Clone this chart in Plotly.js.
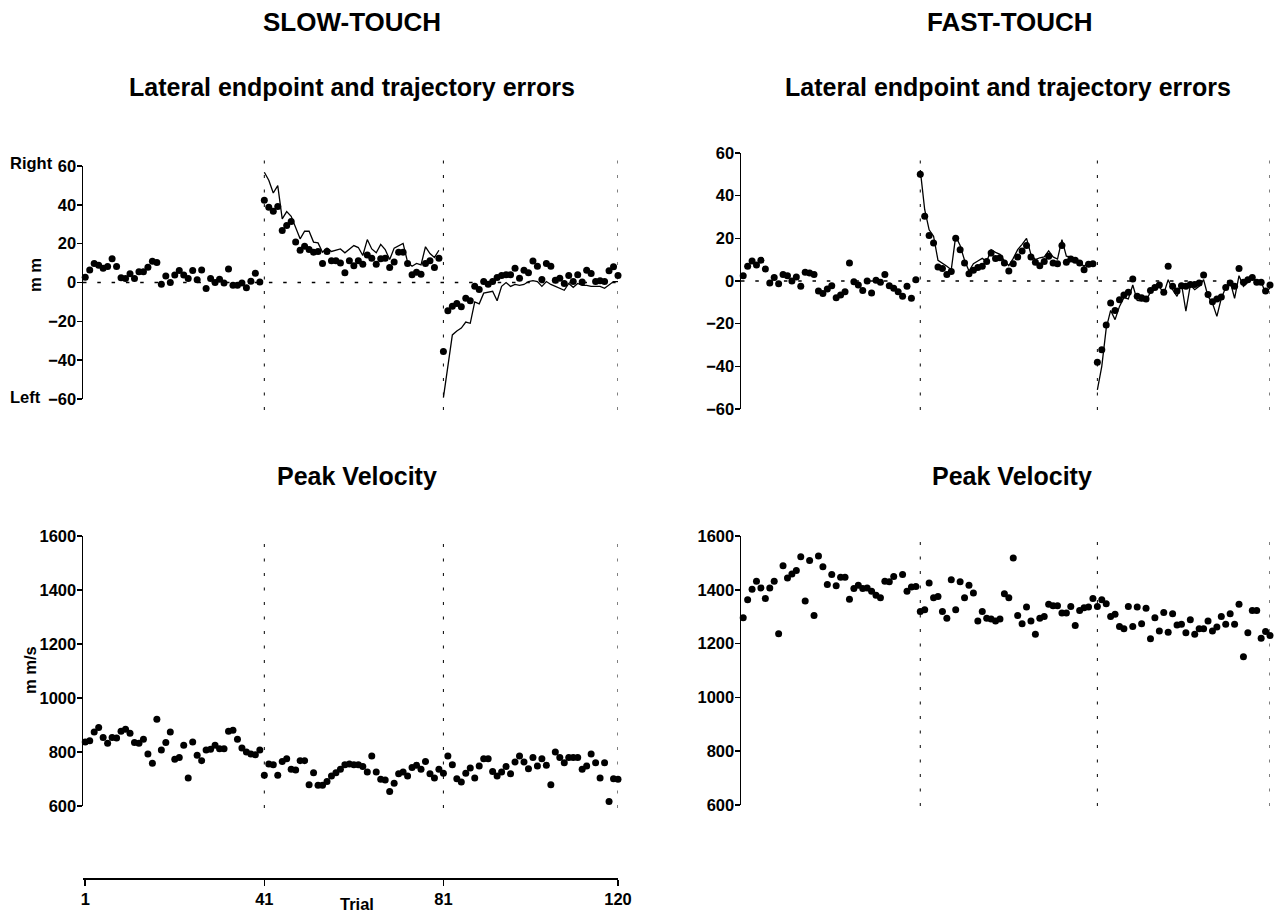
<!DOCTYPE html>
<html>
<head>
<meta charset="utf-8">
<script src="https://cdn.plot.ly/plotly-3.0.1.min.js"></script>
<style>html,body{margin:0;padding:0;background:#fff;}#chart{width:1276px;height:914px;}</style>
</head>
<body>
<div id="chart"></div>
<script>
// ---------- DATA ----------
const trials = [1,2,3,4,5,6,7,8,9,10,11,12,13,14,15,16,17,18,19,20,21,22,23,24,25,26,27,28,29,30,31,32,33,34,35,36,37,38,39,40,
41,42,43,44,45,46,47,48,49,50,51,52,53,54,55,56,57,58,59,60,61,62,63,64,65,66,67,68,69,70,71,72,73,74,75,76,77,78,79,80,
81,82,83,84,85,86,87,88,89,90,91,92,93,94,95,96,97,98,99,100,101,102,103,104,105,106,107,108,109,110,111,112,113,114,115,116,117,118,119,120];
const phaseTrials = [41, 81, 120];
const trialTicks = [1, 41, 81, 120];
const errTicks = [-60, -40, -20, 0, 20, 40, 60];
const velTicks = [600, 800, 1000, 1200, 1400, 1600];

// SLOW-TOUCH lateral endpoint errors (dots), mm
const slowEndpoint = [
 2.7,6.5,9.8,8.9,7.4,8.2,12.2,8.2,2.4,2.1,4.5,2.1,5.5,5.5,7.9,11,10.3,-0.9,3.4,0,3.8,6.2,3.8,2.1,6.2,1.4,6.5,-3.1,2.1,0,1.7,-0.3,6.9,-1.4,-1.4,-0.3,-2.7,0.7,4.8,0.3,
 42.4,38.8,36.7,39.1,26.8,29.3,31.4,20.8,16.6,18.7,17,15.6,16,9.8,16,11.2,11.2,10.1,5,11.2,8.6,11.2,9.4,14.2,12.5,9.4,12.2,12.5,7.7,10.5,15.6,15.6,9.8,4,5.3,4.3,9.8,11.2,7.7,12.5,
 -35.5,-14.6,-12.2,-10.8,-12.5,-8.1,-9.4,-1.9,-3.6,0.5,-0.9,0.5,2.6,3.6,4,4,7.4,2.2,6.3,5,11.1,8.4,1.5,9.8,8.4,1.2,2.2,-0.5,3.6,0.5,4,0.2,6.3,4.6,0.5,0.9,0.5,6,8.1,3.6];
// SLOW-TOUCH trajectory errors (line), trials 41-80 and 81-120
const slowTrajPrism = [56.8,52.7,46.1,49.9,32.8,36.5,34.1,28,22.5,26.4,26.4,20.8,20.4,15.6,17.7,16,16.6,17.3,15.3,17,19,18,13.9,22.1,17.3,15.3,19.6,17,11.8,17.7,19,20.1,10.5,8.4,9.8,9.1,18.4,14.9,12.9,16.6];
const slowTrajPost = [-59.3,-42,-27,-25,-23.5,-20.4,-21,-10,-11,-5.5,-5,-4.5,-9.4,-2,0,-2,-1,-1.5,-1,0.5,1,0.5,-2,0.5,-1,-2,-3,-4,-0.5,-2.5,-0.5,-1.5,-1.5,-2,-2,-2,-3,-1,0.5,0.5];

// FAST-TOUCH lateral endpoint errors (dots), mm
const fastEndpoint = [
 2.5,6.9,9.4,7.5,9.7,5.6,-0.9,1.6,-1.3,3.1,2.5,0,1.9,-2.5,4.1,3.8,3.1,-4.7,-5.9,-3.8,-2.2,-7.8,-6.6,-5,8.4,-0.3,-1.9,-4.4,0,-5.6,0.3,-0.6,3.1,-2.2,-3.4,-5,-7.2,-2.5,-8.1,0.6,
 50,30.3,21.3,17.8,6.6,5.9,3.1,4.4,20,14.7,8.4,3.4,5,6.3,6.9,9.1,13.1,10.6,10.9,8.4,4.7,8.1,11.3,14.1,16.6,11.3,8.8,7.2,9.1,11.6,8.4,8.1,16.6,8.8,10.3,9.7,8.4,5.3,7.8,8.1,
 -38.1,-32.2,-20.6,-10.3,-13.8,-8.8,-6.6,-5.3,0.9,-7.2,-7.8,-8.4,-4.4,-3.1,-1.9,-5.3,6.9,-2.5,-4.7,-2.2,-2.5,-1.6,-1.6,-0.9,2.8,-6.3,-9.7,-8.4,-7.5,-3.1,-0.9,-2.5,5.9,-0.6,0.6,1.6,-0.6,-0.6,-4.7,-1.9];
const fastTrajPrism = [52,33.4,24,21,9.7,8.4,6.9,5.3,21,16.6,9.7,4.7,8.1,9.4,10.6,9.1,14.7,13.4,12.5,9.4,7.2,10.6,14.7,17.2,20,12.5,10,10.9,11.3,14.1,11.3,10.3,19.4,11.6,11.3,9.7,8.8,6.9,8.8,8.4];
const fastTrajPost = [-51,-40,-22.2,-13.8,-18.1,-11.9,-7.8,-8.4,-1.9,-9.1,-9.4,-9.1,-5.3,-3.8,-2.5,-5.9,0.6,-4.1,-7.2,-1.3,-14.1,-1.9,-4.1,-2.5,0.6,-7.2,-10.3,-16.6,-8.1,-3.1,-0.3,-8.1,2.5,-2.5,-0.6,2.2,-0.9,-0.3,-5.9,-3.1];

// Peak velocity, mm/s
const slowVelocity = [
 837,842,874,891,854,832,854,852,877,884,869,835,832,847,793,758,921,807,835,874,773,780,825,704,837,788,768,807,810,825,812,812,877,881,847,815,800,793,790,807,
 714,756,753,714,765,775,736,733,768,768,679,723,677,677,691,711,723,736,753,756,753,753,746,726,785,726,699,696,654,684,719,726,711,743,751,736,765,719,704,736,
 721,785,753,701,689,721,741,704,748,775,775,728,711,726,746,719,763,785,763,738,780,748,775,751,679,800,780,760,780,780,780,736,748,793,760,704,760,617,701,699];
const fastVelocity = [
 1296,1363,1402,1432,1407,1368,1407,1432,1237,1489,1444,1459,1472,1523,1358,1509,1304,1526,1486,1420,1457,1415,1447,1447,1365,1405,1417,1405,1407,1395,1380,1370,1432,1430,1449,1605,1457,1395,1410,1412,
 1319,1326,1425,1370,1375,1319,1294,1437,1326,1430,1370,1417,1388,1284,1319,1294,1291,1284,1291,1385,1370,1518,1304,1274,1336,1284,1235,1294,1301,1346,1341,1341,1314,1314,1338,1267,1323,1333,1336,1368,
 1338,1363,1348,1301,1309,1264,1255,1338,1264,1336,1274,1331,1218,1296,1247,1316,1242,1311,1269,1272,1240,1289,1235,1255,1255,1284,1247,1262,1301,1272,1311,1272,1346,1151,1240,1323,1323,1220,1245,1230];

// ---------- LAYOUT HELPERS ----------
const W = 1276, H = 914;
const px = v => v / W;
const py = v => 1 - v / H;
const FONT = 'Liberation Sans, Arial, Helvetica, sans-serif';
const tickFont = {family: FONT, size: 16.5, color: '#000', weight: 'bold'};

const prismX = trials.slice(40, 80);
const postX = trials.slice(80, 120);

function dots(y, xa, ya) {
  return {x: trials, y: y, xaxis: xa, yaxis: ya, type: 'scatter', mode: 'markers',
    marker: {color: '#000', size: 7}, cliponaxis: false, hoverinfo: 'skip'};
}
function line(x, y, xa, ya) {
  return {x: x, y: y, xaxis: xa, yaxis: ya, type: 'scatter', mode: 'lines',
    line: {color: '#000', width: 1.3}, cliponaxis: false, hoverinfo: 'skip'};
}

const data = [
  line(prismX, slowTrajPrism, 'x', 'y'), line(postX, slowTrajPost, 'x', 'y'), dots(slowEndpoint, 'x', 'y'),
  line(prismX, fastTrajPrism, 'x2', 'y2'), line(postX, fastTrajPost, 'x2', 'y2'), dots(fastEndpoint, 'x2', 'y2'),
  dots(slowVelocity, 'x3', 'y3'), dots(fastVelocity, 'x4', 'y4'),
  {x: [trialTicks[0]], y: [0], xaxis: 'x5', yaxis: 'y5', type: 'scatter', mode: 'markers', marker: {opacity: 0}, hoverinfo: 'skip'}
];

const hiddenX = (dom, anchor) => ({domain: dom, range: [0.5, 120], anchor: anchor, visible: false, fixedrange: true});
const yAx = (dom, anchor, range, ticks) => ({domain: dom, range: range, anchor: anchor, showline: true, linecolor: '#000', linewidth: 1.5,
  ticks: 'outside', ticklen: 5, tickwidth: 1.5, tickcolor: '#000', tickvals: ticks, showgrid: false, zeroline: false, tickfont: tickFont, ticklabelstandoff: -3});

const domL = [px(83), px(618)], domR = [px(741), px(1270)];

const layout = {
  width: W, height: H, margin: {l: 0, r: 0, t: 0, b: 0}, showlegend: false,
  paper_bgcolor: '#fff', plot_bgcolor: 'rgba(0,0,0,0)',
  xaxis: hiddenX(domL, 'y'), yaxis: yAx([py(399), py(166)], 'x', [-60, 60], errTicks),
  xaxis2: hiddenX(domR, 'y2'), yaxis2: yAx([py(409), py(153)], 'x2', [-60, 60], errTicks),
  xaxis3: hiddenX(domL, 'y3'), yaxis3: yAx([py(806), py(536)], 'x3', [600, 1600], velTicks),
  xaxis4: hiddenX(domR, 'y4'), yaxis4: yAx([py(805), py(536)], 'x4', [600, 1600], velTicks),
  xaxis5: {domain: domL, range: [0.5, 120], anchor: 'y5', showline: true, linecolor: '#000', linewidth: 1.5,
    ticks: 'outside', ticklen: 6, tickwidth: 1.5, tickcolor: '#000', tickvals: trialTicks, showgrid: false, zeroline: false,
    tickfont: tickFont},
  yaxis5: {domain: [py(878), py(870)], range: [-1, 1], anchor: 'x5', visible: false},
  shapes: [],
  annotations: []
};

// phase boundary lines
const vSpec = [['x', 150, 410], ['x2', 152, 410], ['x3', 535, 808], ['x4', 535, 806]];
vSpec.forEach(([xa, top, bot]) => {
  phaseTrials.forEach(t => layout.shapes.push({type: 'line', xref: xa, yref: 'paper', x0: t, x1: t, y0: py(bot), y1: py(top),
    line: {color: '#000', width: 1, dash: '3px,11.5px'}}));
});
// zero lines
[['x', 'y'], ['x2', 'y2']].forEach(([xa, ya]) => layout.shapes.push({type: 'line', xref: xa, yref: ya, x0: 0.5, x1: 120, y0: 0, y1: 0,
  line: {color: '#000', width: 1.6, dash: '3.5px,10.8px'}}));

function ann(text, x, y, size, opts) {
  layout.annotations.push(Object.assign({text: text, x: px(x), y: py(y), xref: 'paper', yref: 'paper', showarrow: false,
    font: {family: FONT, size: size, color: '#000', weight: 'bold'}, xanchor: 'center', yanchor: 'middle'}, opts || {}));
}
ann('SLOW-TOUCH', 352, 22, 26);
ann('FAST-TOUCH', 1010, 22, 26);
ann('Lateral endpoint and trajectory errors', 352, 87, 25);
ann('Lateral endpoint and trajectory errors', 1008, 87, 25);
ann('Peak Velocity', 357, 476, 25);
ann('Peak Velocity', 1012, 476, 25);
ann('Right', 55, 163, 16.5, {xanchor: 'right'});
ann('Left', 43, 397, 16.5, {xanchor: 'right'});
ann('m m', 35, 275, 16.5, {textangle: -90});
ann('m m/s', 30, 670, 16.5, {textangle: -90});
ann('Trial', 357, 904, 16.5);

Plotly.newPlot('chart', data, layout, {staticPlot: true, displayModeBar: false});
</script>
</body>
</html>
